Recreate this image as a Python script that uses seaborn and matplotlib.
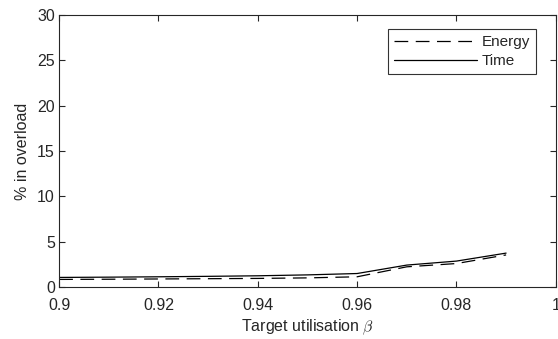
import pandas as pd
import matplotlib
matplotlib.use("Agg")
import matplotlib.pyplot as plt
import seaborn as sns

# ── Data ──────────────────────────────────────────────────────────────────────
beta = [0.90, 0.91, 0.92, 0.93, 0.94, 0.95, 0.96, 0.97, 0.98, 0.99]
energy = [0.85, 0.87, 0.90, 0.93, 0.96, 1.02, 1.14, 2.24, 2.60, 3.55]
time = [1.07, 1.10, 1.14, 1.19, 1.25, 1.35, 1.50, 2.43, 2.87, 3.75]

df = pd.DataFrame({"beta": beta * 2,
                   "value": energy + time,
                   "series": ["Energy"] * len(beta) + ["Time"] * len(beta)})

# ── Style ─────────────────────────────────────────────────────────────────────
sns.set_style("ticks")
plt.rcParams["font.family"] = ["Liberation Sans", "DejaVu Sans"]
plt.rcParams["mathtext.fontset"] = "cm"

fig = plt.figure(figsize=(5.58, 3.39), dpi=100)
ax = fig.add_axes([0.106, 0.153, 0.890, 0.803])

sns.lineplot(data=df, x="beta", y="value", hue="series", style="series",
             palette={"Energy": "black", "Time": "black"},
             dashes={"Energy": (11, 6), "Time": ""},
             linewidth=0.9, ax=ax)

ax.set_xlim(0.9, 1.0)
ax.set_ylim(0, 30)
ax.set_xticks([0.9, 0.92, 0.94, 0.96, 0.98, 1.0])
ax.set_xticklabels(["0.9", "0.92", "0.94", "0.96", "0.98", "1"])
ax.set_yticks([0, 5, 10, 15, 20, 25, 30])
ax.tick_params(direction="in", top=True, right=True, labelsize=11.5,
               length=4, width=0.8)
ax.tick_params(axis="x", pad=8)
ax.tick_params(axis="y", pad=3)
for s in ax.spines.values():
    s.set_linewidth(0.8)

ax.set_xlabel(r"Target utilisation $\beta$", fontsize=11.5, labelpad=3)
ax.set_ylabel("% in overload", fontsize=11.5, labelpad=5)

leg = ax.legend(title=None, loc="upper right", bbox_to_anchor=(0.96, 0.949),
                borderaxespad=0, fontsize=11,
                handlelength=5.4, frameon=True, fancybox=False,
                edgecolor="black", handletextpad=0.3,
                labelspacing=0.35, borderpad=0.4)
leg.get_frame().set_linewidth(0.8)

fig.savefig("out.png", dpi=100)
